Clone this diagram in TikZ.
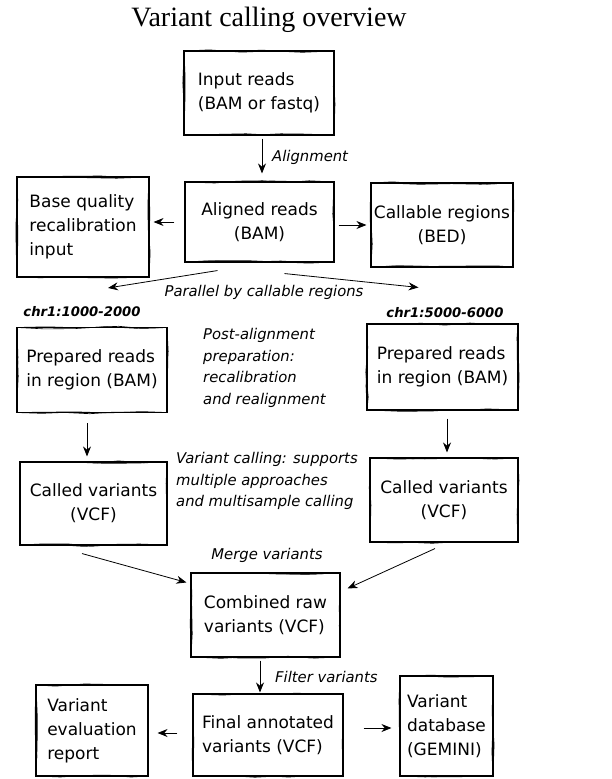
\documentclass[tikz,border=0pt]{standalone}
\usepackage{fontspec}
\setmainfont{DejaVu Sans}
\newfontfamily\titlefont{Liberation Serif}
\usetikzlibrary{arrows.meta,decorations.pathmorphing}

\newcommand{\boxfont}{\fontsize{17}{24}\selectfont}
\newcommand{\notefont}{\fontsize{14.8}{21.5}\selectfont\itshape}
\newcommand{\chrfont}{\fontsize{13.2}{16}\selectfont\bfseries\itshape}

\tikzset{
  stage/.style={draw, line width=1.1pt, font=\boxfont, inner sep=0pt,
    postaction={draw, line width=0.7pt, decorate,
      decoration={random steps, segment length=24pt, amplitude=1.2pt}},
    postaction={draw, line width=0.6pt, decorate,
      decoration={random steps, segment length=31pt, amplitude=1.4pt}}},
  note/.style={font=\notefont, align=left, inner sep=0pt},
  flow/.style={-{Stealth[length=10pt,width=8pt]}, line width=0.8pt},
}

\begin{document}
\begin{tikzpicture}[x=1pt,y=-1pt]
  \pgfmathsetseed{7}
  \useasboundingbox (0,0) rectangle (611,779);
  \node[font=\titlefont\fontsize{28}{30}\selectfont] (title) at (269,20) {Variant calling overview};

  % boxes
  \node[stage, align=left, minimum width=150pt, minimum height=84pt] (input) at (259,93) {Input reads\\(BAM or fastq)};
  \node[stage, align=center, minimum width=149pt, minimum height=80pt] (aligned) at (259.5,222) {Aligned reads\\(BAM)};
  \node[stage, align=left, minimum width=132pt, minimum height=100pt] (bqsr) at (83,227) {Base quality\\recalibration\\input};
  \node[stage, align=center, minimum width=142pt, minimum height=84pt] (callable) at (442,225) {Callable regions\\(BED)};
  \node[stage, align=left, minimum width=150pt, minimum height=85pt] (prepleft) at (92,370) {Prepared reads\\in region (BAM)};
  \node[stage, align=left, minimum width=151pt, minimum height=86pt] (prepright) at (442.5,367) {Prepared reads\\in region (BAM)};
  \node[stage, align=center, minimum width=147pt, minimum height=83pt] (calledleft) at (93.5,503.5) {Called variants\\(VCF)};
  \node[stage, align=center, minimum width=148pt, minimum height=84pt] (calledright) at (444,500) {Called variants\\(VCF)};
  \node[stage, align=left, minimum width=149pt, minimum height=84pt] (combined) at (265.5,615) {Combined raw\\variants (VCF)};
  \node[stage, align=left, minimum width=150pt, minimum height=82pt] (final) at (268,735) {Final annotated\\variants (VCF)};
  \node[stage, align=left, minimum width=112pt, minimum height=91pt] (report) at (92,730.5) {Variant\\evaluation\\report};
  \node[stage, align=left, minimum width=93pt, minimum height=100pt] (gemini) at (446.5,726) {Variant\\database\\(GEMINI)};

  % labels
  \node[note, anchor=west] (alignlbl) at (272,157) {Alignment};
  \node[note] (parallellbl) at (264,292) {Parallel by callable regions};
  \node[font=\chrfont, inner sep=0pt] (chrleft) at (82,312) {chr1:1000-2000};
  \node[font=\chrfont, inner sep=0pt] (chrright) at (445,313) {chr1:5000-6000};
  \node[note, anchor=west] (preplbl) at (203,368) {Post-alignment\\preparation:\\recalibration\\and realignment};
  \node[note, anchor=west] (calllbl) at (176,481) {Variant calling: supports\\multiple approaches\\and multisample calling};
  \node[note] (mergelbl) at (267,555) {Merge variants};
  \node[note, anchor=west] (filterlbl) at (275,677) {Filter variants};

  % arrows
  \draw[flow, shorten <=3pt, shorten >=8pt] ([xshift=3pt]input.south) -- ([xshift=2.5pt]aligned.north);
  \draw[flow, shorten <=10pt, shorten >=4pt] (aligned.west) -- (aligned.west -| bqsr.east);
  \draw[flow, shorten <=4pt, shorten >=4pt] ([yshift=-3pt]aligned.east) -- ([yshift=-3pt]aligned.east -| callable.west);
  \draw[flow] ([shift={(-42pt,-8pt)}]aligned.south) -- ([shift={(16pt,39pt)}]prepleft.north);
  \draw[flow] ([shift={(25pt,-11pt)}]aligned.south) -- ([shift={(-24pt,36pt)}]prepright.north);
  \draw[flow, shorten <=10pt, shorten >=5pt] ([xshift=-5pt]prepleft.south) -- ([xshift=-5pt]prepleft.south |- calledleft.north);
  \draw[flow, shorten <=8pt, shorten >=5pt] ([xshift=4.5pt]prepright.south) -- ([xshift=4.5pt]prepright.south |- calledright.north);
  \draw[flow] ([shift={(-11.5pt,-8pt)}]calledleft.south) -- ([shift={(-4pt,-10pt)}]combined.north west);
  \draw[flow] ([shift={(-9pt,-6pt)}]calledright.south) -- ([shift={(7pt,-16pt)}]combined.north east);
  \draw[flow, shorten <=3pt, shorten >=1pt] ([xshift=-5.5pt]combined.south) -- ([xshift=-5.5pt]combined.south |- final.north);
  \draw[flow, shorten <=15pt, shorten >=9pt] ([yshift=2pt]final.west) -- ([yshift=2pt]final.west -| report.east);
  \draw[flow, shorten <=20pt, shorten >=8pt] ([yshift=7pt]final.east) -- ([yshift=7pt]final.east -| gemini.west);
\end{tikzpicture}
\end{document}
